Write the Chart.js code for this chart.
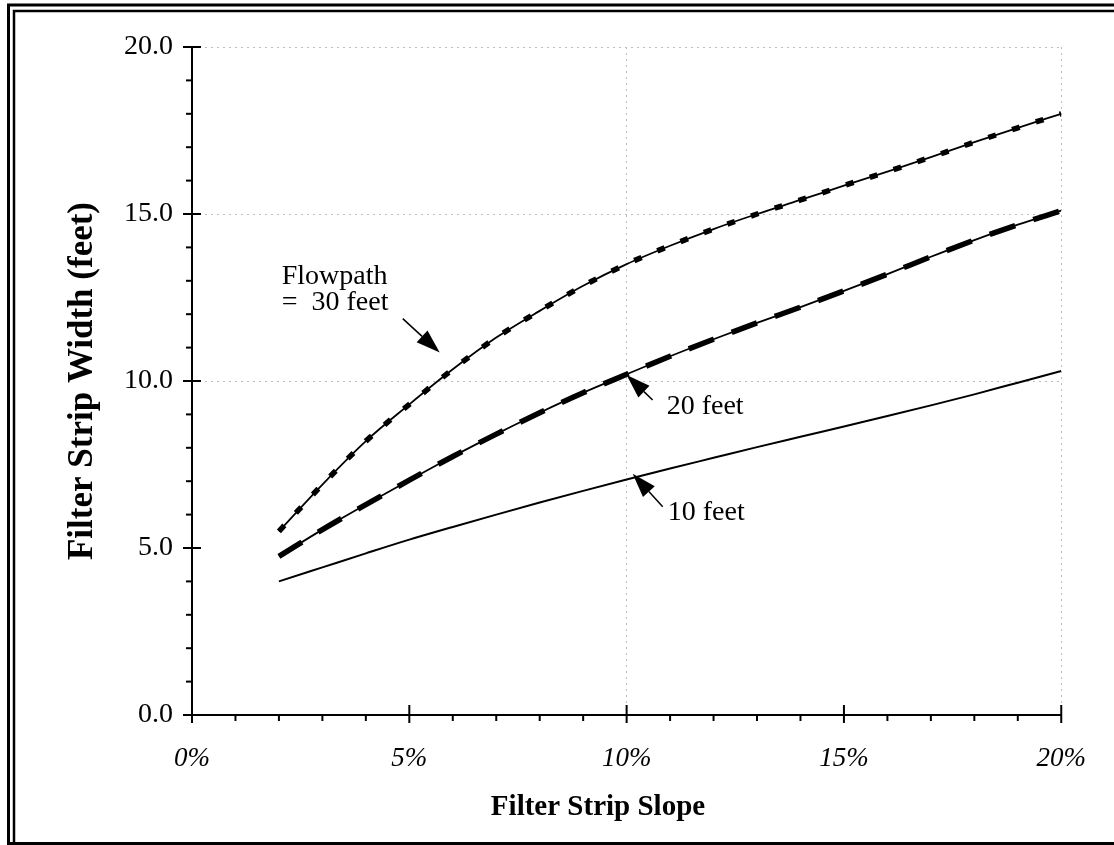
<!DOCTYPE html>
<html>
<head>
<meta charset="utf-8">
<title>Filter Strip Width vs Slope</title>
<script src="https://cdn.jsdelivr.net/npm/chart.js@4.4.1/dist/chart.umd.min.js"></script>
<style>
  html, body { margin: 0; padding: 0; background: #fff; }
  #wrap { width: 1114px; height: 845px; }
</style>
</head>
<body>
<div id="wrap"><canvas id="chart" width="1114" height="845"></canvas></div>
<script>
// slope (%) on x, filter strip width (feet) on y
const slopes = [2, 3, 4, 5, 6, 7, 8, 9, 10, 11, 12, 13, 14, 15, 16, 17, 18, 19, 20];
const width30 = [5.5, 6.9, 8.2, 9.3, 10.35, 11.3, 12.1, 12.85, 13.5, 14.05, 14.55, 15.0, 15.42, 15.85, 16.27, 16.7, 17.15, 17.58, 18.0];
const width20 = [4.75, 5.55, 6.3, 7.03, 7.74, 8.41, 9.05, 9.65, 10.2, 10.74, 11.25, 11.74, 12.21, 12.7, 13.2, 13.72, 14.22, 14.68, 15.1];
const width10 = [4.0, 4.42, 4.84, 5.25, 5.63, 6.0, 6.36, 6.71, 7.05, 7.38, 7.7, 8.02, 8.33, 8.64, 8.95, 9.27, 9.6, 9.95, 10.3];

const xTickValues = [0, 5, 10, 15, 20];
const yTickValues = [0, 5, 10, 15, 20];
const xGridAt = [10, 20];
const yGridAt = [10, 15, 20];

const SERIF = '"Liberation Serif", "Times New Roman", serif';

const toPoints = ys => slopes.map((s, i) => ({ x: s, y: ys[i] }));

// arrows + labels, tip given in data units, the rest in pixels from the tip
const notes = [
    { tipX: 5.7, tipY: 10.85, dx: -37, dy: -34, tx: -158, ty: -76, lines: ['Flowpath', '=  30 feet'] },
    { tipX: 10.0, tipY: 10.18, dx: 26, dy: 25, tx: 40, ty: 32, lines: ['20 feet'] },
    { tipX: 10.14, tipY: 7.22, dx: 30, dy: 33, tx: 35, ty: 39, lines: ['10 feet'] }
];

function drawArrow(ctx, x0, y0, x1, y1) {
    const ang = Math.atan2(y1 - y0, x1 - x0);
    const len = 24, half = 8;
    const bx = x1 - Math.cos(ang) * len, by = y1 - Math.sin(ang) * len;
    ctx.beginPath();
    ctx.moveTo(x0, y0);
    ctx.lineTo(bx, by);
    ctx.stroke();
    ctx.beginPath();
    ctx.moveTo(x1, y1);
    ctx.lineTo(bx + Math.sin(ang) * half, by - Math.cos(ang) * half);
    ctx.lineTo(bx - Math.sin(ang) * half, by + Math.cos(ang) * half);
    ctx.closePath();
    ctx.fill();
}

const decor = {
    id: 'decor',
    beforeDraw(chart) {
        const ctx = chart.ctx;
        ctx.save();
        ctx.fillStyle = '#fff';
        ctx.fillRect(0, 0, chart.width, chart.height);
        ctx.strokeStyle = '#000';
        // double frame
        ctx.lineWidth = 3;
        ctx.beginPath();
        ctx.moveTo(8.5, 845); ctx.lineTo(8.5, 5); ctx.lineTo(1114, 5);
        ctx.stroke();
        ctx.lineWidth = 2.5;
        ctx.beginPath();
        ctx.moveTo(14, 843); ctx.lineTo(14, 11); ctx.lineTo(1114, 11);
        ctx.stroke();
        ctx.lineWidth = 3;
        ctx.beginPath();
        ctx.moveTo(8.5, 843.5); ctx.lineTo(1114, 843.5);
        ctx.stroke();
        ctx.restore();
    },
    afterDraw(chart) {
        const { ctx, scales: { x, y } } = chart;
        const x0 = x.getPixelForValue(0), y0 = y.getPixelForValue(0);
        ctx.save();
        ctx.strokeStyle = '#000';
        ctx.fillStyle = '#000';
        ctx.lineWidth = 2;

        // tick marks: majors cross the axis, minors sit outside
        for (let v = 0; v <= 20; v++) {
            const py = y.getPixelForValue(v);
            const major = yTickValues.includes(v);
            ctx.beginPath();
            ctx.moveTo(x0 - (major ? 9 : 6), py);
            ctx.lineTo(x0 + (major ? 9 : 0), py);
            ctx.stroke();

            const px = x.getPixelForValue(v);
            const majorX = xTickValues.includes(v);
            ctx.beginPath();
            ctx.moveTo(px, y0 - (majorX ? 10 : 0));
            ctx.lineTo(px, y0 + (majorX ? 8 : 6));
            ctx.stroke();
        }

        // annotations
        ctx.lineWidth = 1.5;
        ctx.font = '28px ' + SERIF;
        ctx.textBaseline = 'middle';
        ctx.textAlign = 'left';
        notes.forEach(n => {
            const tx = x.getPixelForValue(n.tipX), ty = y.getPixelForValue(n.tipY);
            drawArrow(ctx, tx + n.dx, ty + n.dy, tx, ty);
            n.lines.forEach((line, i) => {
                ctx.fillText(line, tx + n.tx, ty + n.ty + i * 26);
            });
        });

        // x axis title
        ctx.font = 'bold 29px ' + SERIF;
        ctx.textAlign = 'center';
        ctx.fillText('Filter Strip Slope', 598, 808);
        ctx.restore();
    }
};

const gridColor = list => c => list.includes(c.tick.value) ? '#bdbdbd' : 'rgba(0,0,0,0)';

new Chart(document.getElementById('chart'), {
    type: 'line',
    data: {
        datasets: [
            { label: '30 feet', data: toPoints(width30), borderColor: '#000', borderWidth: 1.8, cubicInterpolationMode: 'monotone' },
            { label: '30 feet marks', data: toPoints(width30), borderColor: '#000', borderWidth: 5.5, borderDash: [8, 17], cubicInterpolationMode: 'monotone' },
            { label: '20 feet', data: toPoints(width20), borderColor: '#000', borderWidth: 1.8, cubicInterpolationMode: 'monotone' },
            { label: '20 feet marks', data: toPoints(width20), borderColor: '#000', borderWidth: 5.5, borderDash: [27, 19], cubicInterpolationMode: 'monotone' },
            { label: '10 feet', data: toPoints(width10), borderColor: '#000', borderWidth: 2, cubicInterpolationMode: 'monotone' }
        ]
    },
    options: {
        responsive: false,
        animation: false,
        layout: { padding: { left: 60, top: 47, right: 52, bottom: 0 } },
        elements: { point: { radius: 0 } },
        plugins: { legend: { display: false }, tooltip: { enabled: false } },
        scales: {
            x: {
                type: 'linear', min: 0, max: 20,
                afterFit: s => { s.height = 130; },
                afterBuildTicks: s => { s.ticks = xTickValues.map(v => ({ value: v })); },
                ticks: {
                    padding: 28, color: '#000',
                    font: { family: SERIF, size: 27, style: 'italic' },
                    callback: v => v + '%'
                },
                grid: { drawTicks: false, color: gridColor(xGridAt), lineWidth: 1 },
                border: { display: true, color: '#000', width: 2, dash: [2, 4] }
            },
            y: {
                type: 'linear', min: 0, max: 20,
                afterFit: s => { s.width = 132; },
                afterBuildTicks: s => { s.ticks = yTickValues.map(v => ({ value: v })); },
                ticks: {
                    padding: 19, color: '#000',
                    font: { family: SERIF, size: 28 },
                    callback: v => v.toFixed(1)
                },
                grid: { drawTicks: false, color: gridColor(yGridAt), lineWidth: 1 },
                border: { display: true, color: '#000', width: 2, dash: [2, 4] },
                title: {
                    display: true, text: 'Filter Strip Width (feet)', color: '#000',
                    font: { family: SERIF, size: 35, weight: 'bold' },
                    padding: { top: 2, bottom: 0 }
                }
            }
        }
    },
    plugins: [decor]
});
</script>
</body>
</html>
